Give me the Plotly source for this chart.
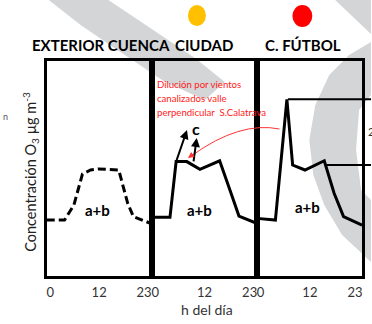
import plotly.graph_objects as go

# ---------------- data ----------------
panel_titles = ["EXTERIOR CUENCA", "CIUDAD", "C. FÚTBOL"]
tick_vals = [0, 12, 23]
tick_text = ["0", "12", "23"]

hours_ext = [-0.85, 3.5, 5.8, 7.0, 7.9, 9.9, 11.9, 16.8, 17.6, 19.0, 20.4, 24.6]
conc_ext = [26.0, 26.0, 33.0, 41.5, 47.4, 49.3, 49.8, 49.3, 43.9, 33.8, 27.6, 24.5]

hours_ciu = [-0.7, 3.6, 5.1, 7.7, 10.9, 15.7, 18.2, 20.4, 24.7]
conc_ciu = [27.3, 27.3, 53.2, 53.2, 49.6, 53.6, 40.0, 27.9, 24.5]

hours_fut = [-0.9, 3.6, 6.4, 7.8, 10.8, 15.5, 17.9, 20.2, 24.7]
conc_fut = [26.8, 26.0, 82.2, 51.6, 49.3, 53.6, 38.5, 27.6, 23.7]

ref_levels = [82.2, 51.6]          # horizontal reference lines (C. FÚTBOL)
ref_start_hours = [6.4, 15.6]

note_lines = ["Dilución por vientos", "canalizados valle", "perpendicular  S.Calatrava"]

W, H = 372, 324
FONT = "Lato, 'Open Sans', sans-serif"


def px(x):
    return x / W


def py(y):
    return 1 - y / H


XDOMS = [[px(46), px(152)], [px(152), px(257)], [px(257), px(363)]]
XRNG = [[-0.85, 25.0], [-0.73, 24.7], [-0.97, 24.7]]
YDOM = [py(276), py(61)]
YR = [0, 100]


def xpaper(i, h):
    d, r = XDOMS[i], XRNG[i]
    return d[0] + (h - r[0]) / (r[1] - r[0]) * (d[1] - d[0])


def ypaper(v):
    return YDOM[0] + (v - YR[0]) / (YR[1] - YR[0]) * (YDOM[1] - YDOM[0])


fig = go.Figure()

fig.add_trace(go.Scatter(x=hours_ext, y=conc_ext, mode="lines", xaxis="x", yaxis="y",
                         line=dict(color="black", width=3, dash="8px,4px"), showlegend=False))
fig.add_trace(go.Scatter(x=hours_ciu, y=conc_ciu, mode="lines", xaxis="x2", yaxis="y2",
                         line=dict(color="black", width=3), showlegend=False))
fig.add_trace(go.Scatter(x=hours_fut, y=conc_fut, mode="lines", xaxis="x3", yaxis="y3",
                         line=dict(color="black", width=3), showlegend=False))

axis_common = dict(showgrid=False, zeroline=False, showline=True, mirror=True,
                   linecolor="black", linewidth=3)
layout = dict(
    width=W, height=H, margin=dict(l=0, r=0, t=0, b=0),
    paper_bgcolor="white", plot_bgcolor="rgba(0,0,0,0)",
    font=dict(family=FONT, color="black"),
    showlegend=False,
)
for i in range(3):
    sx = "" if i == 0 else str(i + 1)
    layout["xaxis" + sx] = dict(axis_common, domain=XDOMS[i], range=XRNG[i],
                                anchor="y" + sx, tickmode="array", tickvals=tick_vals,
                                ticktext=tick_text, ticks="", ticklabelstandoff=2,
                                tickfont=dict(family=FONT, size=13, color="#333"))
    layout["yaxis" + sx] = dict(axis_common, domain=YDOM, range=YR, anchor="x" + sx,
                                showticklabels=False, ticks="")
fig.update_layout(**layout)


def note(x, y, text, size, color="black", family=FONT, xanchor="center", angle=0):
    fig.add_annotation(x=px(x), y=py(y), xref="paper", yref="paper", text=text,
                       showarrow=False, xanchor=xanchor, yanchor="middle", textangle=angle,
                       font=dict(family=family, size=size, color=color))


# ------------- watermark (light grey swoosh) -------------
def poly(points):
    return "M " + " L ".join(f"{px(a):.4f},{py(b):.4f}" for a, b in points) + " Z"


wm_color = "#d3d5d7"
wm_shapes = [
    [(48, 0), (108, 0), (150, 28), (195, 58), (225, 82), (205, 100), (165, 82), (120, 52), (80, 25)],
    [(336, 0), (372, 0), (372, 34)],
    [(372, 42), (350, 55), (330, 75), (316, 105), (310, 140), (314, 175), (325, 205), (343, 235),
     (372, 262), (372, 200), (362, 190), (357, 150), (360, 110), (372, 95)],
]
for pts in wm_shapes:
    fig.add_shape(type="path", path=poly(pts), xref="paper", yref="paper",
                  fillcolor=wm_color, line=dict(width=0), layer="below")

# ------------- circles -------------
fig.add_shape(type="circle", xref="paper", yref="paper", x0=px(188), x1=px(206),
              y0=py(26), y1=py(5), fillcolor="#FFC000", line=dict(width=0))
fig.add_shape(type="circle", xref="paper", yref="paper", x0=px(293), x1=px(313),
              y0=py(27), y1=py(5), fillcolor="#FF0000", line=dict(width=0))

# ------------- panel titles -------------
for cx, t in zip([101, 204, 304], panel_titles):
    note(cx, 45, f"<b>{t}</b>", 15)

# ------------- a+b labels -------------
for ax_i, (h, v) in enumerate([(11.6, 30.7), (10.9, 30.7), (11.5, 32.0)]):
    sx = "" if ax_i == 0 else str(ax_i + 1)
    fig.add_annotation(x=h, y=v, xref="x" + sx, yref="y" + sx, text="<b>a+b</b>",
                       showarrow=False, font=dict(family=FONT, size=15, color="black"))

# ------------- "c" and black arrows -------------
fig.add_annotation(x=10.0, y=68.4, xref="x2", yref="y2", text="<b>c</b>", showarrow=False,
                   font=dict(family=FONT, size=16, color="black"))
for (h0, v0, h1, v1) in [(5.1, 53.2, 7.75, 67.9), (9.3, 52.6, 10.1, 64.2)]:
    fig.add_annotation(x=h1, y=v1, ax=h0, ay=v0, xref="x2", yref="y2", axref="x2", ayref="y2",
                       text="", showarrow=True, arrowhead=2, arrowsize=0.9, arrowwidth=2,
                       arrowcolor="black", standoff=0, startstandoff=0)

# ------------- red note + curved arrow -------------
for yy, line in zip([84.5, 98.5, 112.5], note_lines):
    note(155, yy, line, 9.6, color="#ff1a1a", xanchor="left")
fig.add_shape(type="path", xref="paper", yref="paper",
              path=f"M {px(280):.4f},{py(129):.4f} Q {px(240):.4f},{py(121):.4f} {px(192):.4f},{py(155.5):.4f}",
              line=dict(color="#ff3333", width=1))
fig.add_annotation(x=px(188), y=py(158), xref="paper", yref="paper", ax=7, ay=-5,
                   text="", showarrow=True, arrowhead=2, arrowsize=1.2, arrowwidth=1,
                   arrowcolor="#ff3333", standoff=0)

# ------------- reference lines in C. FÚTBOL -------------
for h, v in zip(ref_start_hours, ref_levels):
    fig.add_shape(type="line", xref="paper", yref="paper", x0=xpaper(2, h) + px(1), x1=1.0,
                  y0=ypaper(v), y1=ypaper(v), line=dict(color="black", width=2))

# ------------- axis titles and stray fragments -------------
note(29, 172, "Concentración O<sub>3</sub> µg m<sup>-3</sup>", 14.5, color="#222", angle=-90)
note(207, 309, "h del día", 14, color="#333")
note(0, 116, "n", 9, color="#555", xanchor="left")
note(367, 131, "2", 11, color="#333", xanchor="left")

fig.write_html("out.html")
